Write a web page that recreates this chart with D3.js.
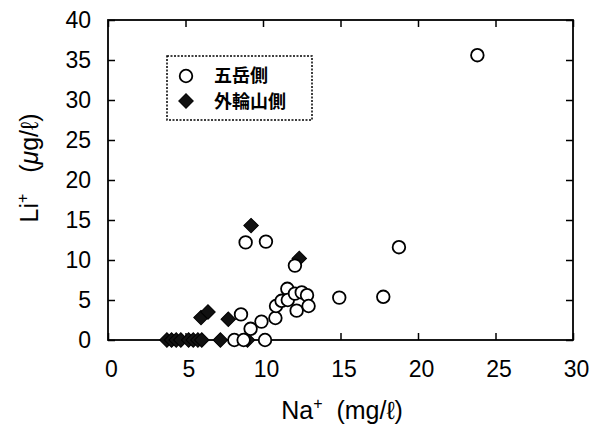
<!DOCTYPE html>
<html lang="ja">
<head>
    <meta charset="UTF-8">
    <title>Li vs Na</title>
    <style>
        body { margin: 0; background: #fff; }
        #chart { font-family: "Liberation Sans", Arial, sans-serif; }
        .axis path { display: none; }
        .axis line { stroke: #000; stroke-width: 1.5px; }
        .axis text { font-size: 23px; fill: #000; font-family: "Liberation Sans", Arial, sans-serif; }
        .title { font-size: 25px; fill: #000; }
        .circle-pt { fill: #fff; stroke: #000; stroke-width: 1.8px; }
        .diamond-pt { fill: #111; stroke: #000; stroke-width: 1px; }
        .legend-text { font-family: "Noto Sans CJK JP", sans-serif; font-size: 18px; font-weight: bold; }
    </style>
    <script src="https://d3js.org/d3.v7.min.js"></script>
</head>
<body>
<div id="chart"></div>
<script>
    // 五岳側 (open circles)
    const gotakeNa = [8.15, 8.75, 10.13, 9.2, 9.9, 8.58, 10.8, 10.84, 11.2, 11.57, 11.6, 12.06, 12.5, 12.84, 12.17, 12.94, 12.06, 8.88, 10.19, 14.92, 17.76, 18.77, 23.83];
    const gotakeLi = [0, 0, 0, 1.4, 2.3, 3.2, 2.75, 4.25, 4.9, 6.4, 5.0, 5.8, 5.95, 5.6, 3.67, 4.25, 9.3, 12.2, 12.3, 5.3, 5.4, 11.6, 35.6];

    // 外輪山側 (filled diamonds)
    const gairinNa = [3.8, 4.1, 4.4, 4.7, 5.2, 5.5, 5.8, 6.05, 7.25, 9.0, 6.0, 6.45, 7.76, 9.23, 12.34];
    const gairinLi = [0, 0, 0, 0, 0, 0, 0, 0, 0, 0, 2.8, 3.5, 2.6, 14.3, 10.2];

    const xTicks = [0, 5, 10, 15, 20, 25, 30];
    const yTicks = [0, 5, 10, 15, 20, 25, 30, 35, 40];
    const legendLabels = ["五岳側", "外輪山側"];

    const W = 601, H = 431;
    const plotL = 108, plotR = 573, plotT = 20, plotB = 340;

    const svg = d3.select("#chart").append("svg")
        .attr("width", W)
        .attr("height", H);

    const x = d3.scaleLinear().domain([0, 30]).range([plotL, plotR]);
    const y = d3.scaleLinear().domain([0, 40]).range([plotB, plotT]);

    // axes, ticks pointing inward
    svg.append("g").attr("class", "axis")
        .attr("transform", `translate(0,${plotB})`)
        .call(d3.axisBottom(x).tickValues(xTicks).tickSizeInner(-7).tickSizeOuter(0).tickPadding(21))
        .selectAll("text").attr("dx", "3");

    svg.append("g").attr("class", "axis")
        .attr("transform", `translate(${plotL},0)`)
        .call(d3.axisLeft(y).tickValues(yTicks).tickSizeInner(-7).tickSizeOuter(0).tickPadding(17));

    svg.append("g").attr("class", "axis")
        .attr("transform", `translate(0,${plotT})`)
        .call(d3.axisTop(x).tickValues(xTicks).tickSizeInner(-7).tickSizeOuter(0).tickFormat(""));

    svg.append("g").attr("class", "axis")
        .attr("transform", `translate(${plotR},0)`)
        .call(d3.axisRight(y).tickValues(yTicks).tickSizeInner(-7).tickSizeOuter(0).tickFormat(""));

    // frame
    svg.append("rect")
        .attr("x", plotL).attr("y", plotT)
        .attr("width", plotR - plotL).attr("height", plotB - plotT)
        .attr("fill", "none").attr("stroke", "#000").attr("stroke-width", 1.8);

    // axis titles
    const xt = svg.append("text")
        .attr("class", "title")
        .attr("x", 342).attr("y", 419)
        .attr("text-anchor", "middle");
    xt.append("tspan").text("Na");
    xt.append("tspan").attr("dy", -10).style("font-size", "16px").text("+");
    xt.append("tspan").attr("dy", 10).text("\u00a0 (mg/ℓ)");

    const yt = svg.append("text")
        .attr("class", "title")
        .attr("transform", "translate(38,168) rotate(-90)")
        .attr("text-anchor", "middle");
    yt.append("tspan").text("Li");
    yt.append("tspan").attr("dy", -10).style("font-size", "16px").text("+");
    yt.append("tspan").attr("dy", 10).text("\u00a0\u00a0 (");
    yt.append("tspan").style("font-style", "italic").text("μ");
    yt.append("tspan").text("g/ℓ)");

    const diamond = d3.symbol().type(d3.symbolSquare).size(105)();

    // data points
    svg.append("g").selectAll("path")
        .data(gairinNa.map((v, i) => [v, gairinLi[i]]))
        .join("path")
        .attr("class", "diamond-pt")
        .attr("d", diamond)
        .attr("transform", d => `translate(${x(d[0])},${y(d[1])}) rotate(45)`);

    svg.append("g").selectAll("circle")
        .data(gotakeNa.map((v, i) => [v, gotakeLi[i]]))
        .join("circle")
        .attr("class", "circle-pt")
        .attr("cx", d => x(d[0]))
        .attr("cy", d => y(d[1]))
        .attr("r", 6.3);

    // legend
    const lg = svg.append("g");
    lg.append("rect")
        .attr("x", 167).attr("y", 56)
        .attr("width", 145).attr("height", 64)
        .attr("fill", "#fff")
        .attr("stroke", "#000").attr("stroke-width", 1.5)
        .attr("stroke-dasharray", "2,1.5");
    lg.append("circle")
        .attr("class", "circle-pt")
        .attr("cx", 186).attr("cy", 76).attr("r", 6.3);
    lg.append("path")
        .attr("class", "diamond-pt")
        .attr("d", diamond)
        .attr("transform", "translate(186,101) rotate(45)");
    lg.selectAll(".legend-text")
        .data(legendLabels)
        .join("text")
        .attr("class", "legend-text")
        .attr("x", 214)
        .attr("y", (d, i) => 76 + i * 26)
        .attr("dy", "0.36em")
        .text(d => d);
</script>
</body>
</html>
